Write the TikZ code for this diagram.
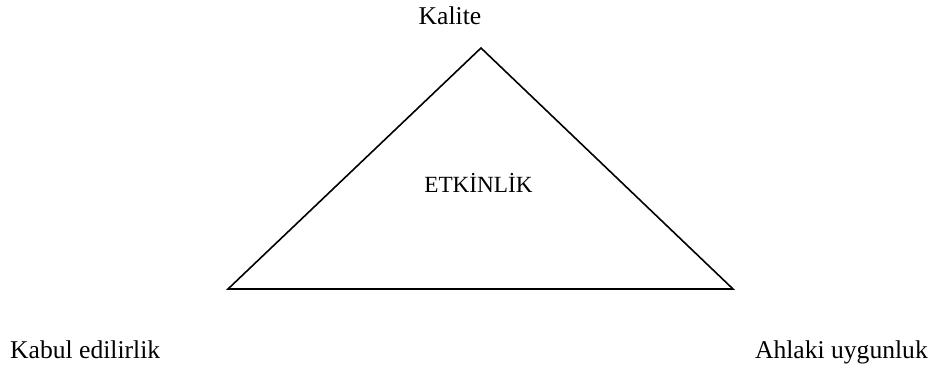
\documentclass[tikz,border=0pt]{standalone}
\usepackage{fontspec}
\setmainfont{Liberation Serif}
\begin{document}
\begin{tikzpicture}[x=1pt,y=1pt,
  lbl/.style={inner sep=0pt,font=\fontsize{25.6}{30}\selectfont},
  side/.style={line width=1.6pt,line join=miter}]
\useasboundingbox (0,0) rectangle (938,376);
\coordinate (top) at (481,328);
\coordinate (bl) at (228,87);
\coordinate (br) at (733,87);
\draw[side] (top) -- (br) -- (bl) -- cycle;
\node[lbl,anchor=base] (kalite) at (450,352) {Kalite};
\node[lbl,anchor=base,font=\fontsize{23.2}{28}\selectfont] (etk) at (478.5,184) {ETKİNLİK};
\node[lbl,anchor=base west] (kabul) at (10,18) {Kabul edilirlik};
\node[lbl,anchor=base east] (ahlaki) at (928,18) {Ahlaki uygunluk};
\end{tikzpicture}
\end{document}
